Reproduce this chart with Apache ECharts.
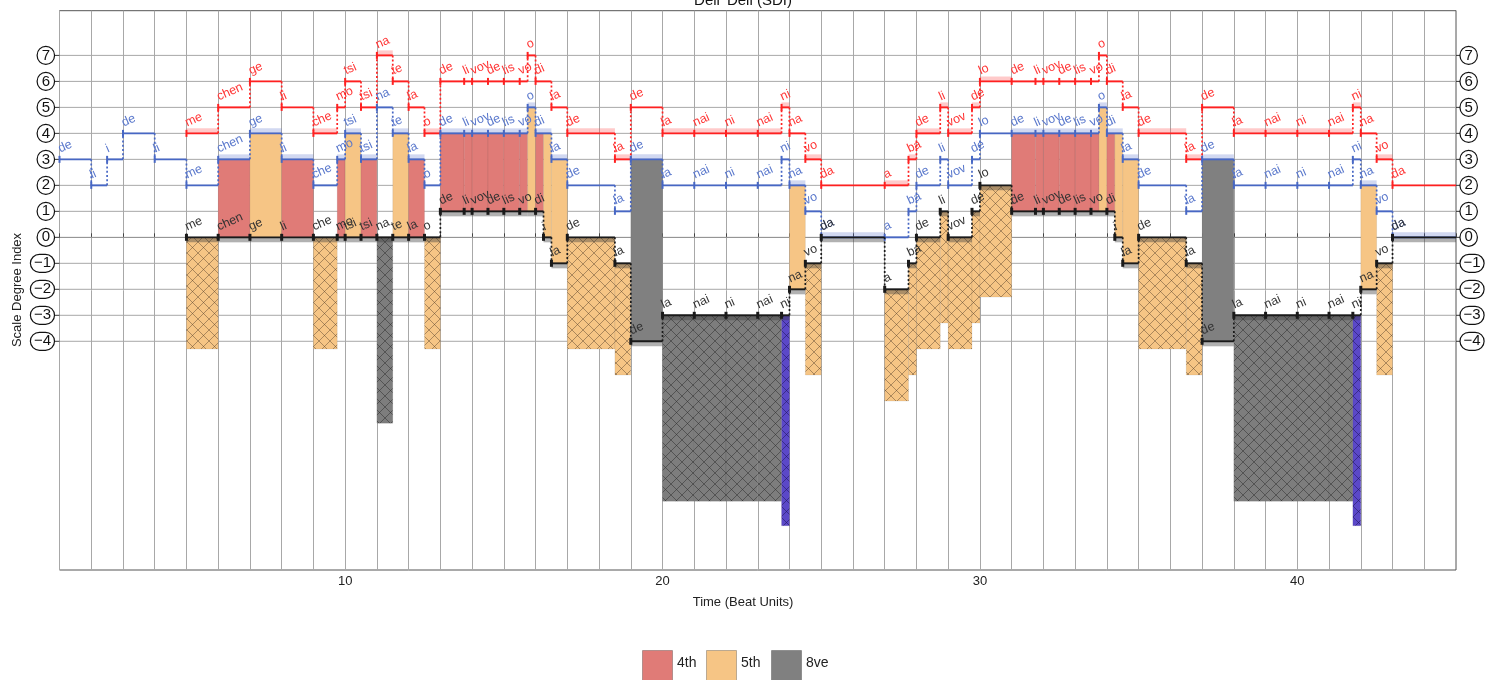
<!DOCTYPE html>
<html><head><meta charset="utf-8">
<script src="https://cdn.jsdelivr.net/npm/echarts@6/dist/echarts.min.js"></script>
<style>html,body{margin:0;padding:0;background:#fff}#c{width:1486px;height:680px}</style>
</head><body><div id="c"></div>
<script>
// ---------- data ----------
const titleText = "Deli' Deli (SDI)";
const xTitle = "Time (Beat Units)";
const yTitle = "Scale Degree Index";
const xMin = 1, xMax = 45;
const yMin = -12.8, yMax = 8.72;
const yTickValues = [-4, -3, -2, -1, 0, 1, 2, 3, 4, 5, 6, 7];
const xLabelValues = [10, 20, 30, 40];
const endTime = 45;

const redOnsets = [5,6,7,8,9,9.75,10,10.5,11,11.5,12,12.5,13,13.75,14,14.5,15,15.5,15.75,16,16.5,17,18.5,19,20,21,22,23,23.75,24,24.5,25,27,27.75,28,28.75,29,29.75,30,31,31.75,32,32.5,33,33.5,33.75,34,34.5,35,36.5,37,38,39,40,41,41.75,42,42.5,43];
const redPitches = [4,5,6,5,4,5,6,5,7,6,5,4,6,6,6,6,6,6,7,6,5,4,3,5,4,4,4,4,5,4,3,2,2,3,4,5,4,5,6,6,6,6,6,6,6,7,6,5,4,3,5,4,4,4,4,5,4,3,2];
const redSyllables = ["me","chen","ge","li","che","mo","tsi","tsi","na","te","la","o","de","li","vov","de","lis","vo","o","di","la","de","la","de","la","nai","ni","nai","ni","na","vo","da","a","ba","de","li","vov","de","lo","de","li","vov","de","lis","vo","o","di","la","de","la","de","la","nai","ni","nai","ni","na","vo","da"];

const blueOnsets = [1,2,2.5,3,4,5,6,7,8,9,9.75,10,10.5,11,11.5,12,12.5,13,13.75,14,14.5,15,15.5,15.75,16,16.5,17,18.5,19,20,21,22,23,23.75,24,24.5,25,27,27.75,28,28.75,29,29.75,30,31,31.75,32,32.5,33,33.5,33.75,34,34.5,35,36.5,37,38,39,40,41,41.75,42,42.5,43];
const bluePitches = [3,2,3,4,3,2,3,4,3,2,3,4,3,5,4,3,2,4,4,4,4,4,4,5,4,3,2,1,3,2,2,2,2,3,2,1,0,0,1,2,3,2,3,4,4,4,4,4,4,4,5,4,3,2,1,3,2,2,2,2,3,2,1,0];
const blueSyllables = ["de","li","i","de","li","me","chen","ge","li","che","mo","tsi","tsi","na","te","la","o","de","li","vov","de","lis","vo","o","di","la","de","la","de","la","nai","ni","nai","ni","na","vo","da","a","ba","de","li","vov","de","lo","de","li","vov","de","lis","vo","o","di","la","de","la","de","la","nai","ni","nai","ni","na","vo","da"];

const blackOnsets = [5,6,7,8,9,9.75,10,10.5,11,11.5,12,12.5,13,13.75,14,14.5,15,15.5,16,16.25,16.5,17,18.5,19,20,21,22,23,23.75,24,24.5,25,27,27.75,28,28.75,29,29.75,30,31,31.75,32,32.5,33,33.5,34,34.25,34.5,35,36.5,37,38,39,40,41,41.75,42,42.5,43];
const blackPitches = [0,0,0,0,0,0,0,0,0,0,0,0,1,1,1,1,1,1,1,0,-1,0,-1,-4,-3,-3,-3,-3,-3,-2,-1,0,-2,-1,0,1,0,1,2,1,1,1,1,1,1,1,0,-1,0,-1,-4,-3,-3,-3,-3,-3,-2,-1,0];
const blackSyllables = ["me","chen","ge","li","che","mo","tsi","tsi","na","te","la","o","de","li","vov","de","lis","vo","di","i","la","de","la","de","la","nai","ni","nai","ni","na","vo","da","a","ba","de","li","vov","de","lo","de","li","vov","de","lis","vo","di","i","la","de","la","de","la","nai","ni","nai","ni","na","vo","da"];

const legendNames = ["4th", "5th", "8ve"];
// interval size (scale steps) -> class
const solidClasses = {3: "4th", 4: "5th", 7: "8ve"};
const hatchClasses = {3: "4th", 4: "5th", 7: "8ve", 8: "9th"};
const hatchDepth = {"4th": 3.3, "5th": 4.3, "8ve": 7.15, "9th": 8.1};

// ---------- styles ----------
const fillColors = {"4th": "#e07b77", "5th": "#f6c585", "8ve": "#808080", "9th": "#5b48c8"};
const voiceStyle = {
  red:   {line: "#ff2020", text: "#ff3535", glow: "rgba(255,80,80,0.30)", glowUp: true, tickW: 2},
  blue:  {line: "#4767c4", text: "#5a78cc", glow: "rgba(70,100,200,0.25)", glowUp: true, tickW: 2},
  black: {line: "#1a1a1a", text: "#333333", glow: "rgba(60,60,60,0.40)", glowUp: false, tickW: 3}
};
const FONT = "'Liberation Sans', Arial, Helvetica, sans-serif";

function makeHatch(bg, line) {
  const s = 11, c = document.createElement('canvas');
  c.width = s; c.height = s;
  const g = c.getContext('2d');
  g.fillStyle = bg; g.fillRect(0, 0, s, s);
  g.strokeStyle = line; g.lineWidth = 0.9;
  g.beginPath();
  g.moveTo(-1, -1); g.lineTo(s + 1, s + 1);
  g.moveTo(s + 1, -1); g.lineTo(-1, s + 1);
  g.stroke();
  return c;
}
const hatchPatterns = {
  "4th": {image: makeHatch("#e07b77", "rgba(60,30,30,0.45)"), repeat: "repeat"},
  "5th": {image: makeHatch("#f6c585", "rgba(80,60,40,0.5)"), repeat: "repeat"},
  "8ve": {image: makeHatch("#7d7d7d", "rgba(40,40,40,0.55)"), repeat: "repeat"},
  "9th": {image: makeHatch("#5b48c8", "rgba(30,20,90,0.6)"), repeat: "repeat"}
};

// ---------- derived structures ----------
function buildNotes(on, pit, syl) {
  return on.map((s, i) => ({start: s, end: i + 1 < on.length ? on[i + 1] : endTime,
    pitch: pit[i], prev: i > 0 ? pit[i - 1] : null, syl: syl[i]}));
}
const voices = {
  red: buildNotes(redOnsets, redPitches, redSyllables),
  blue: buildNotes(blueOnsets, bluePitches, blueSyllables),
  black: buildNotes(blackOnsets, blackPitches, blackSyllables)
};
function pitchAt(on, pit, t) {
  if (t < on[0] || t >= endTime) return null;
  let idx = 0;
  for (let i = 0; i < on.length; i++) if (on[i] <= t) idx = i;
  return pit[idx];
}
const breaks = Array.from(new Set([].concat(redOnsets, blueOnsets, blackOnsets, [endTime]))).sort((a, b) => a - b);
const regions = [];
const glowMap = {};
function addGlow(voice, a, b, y) {
  const k = voice + "_" + a + "_" + y;
  if (!glowMap[k]) glowMap[k] = {voice, a, b, y};
}
for (let i = 0; i < breaks.length - 1; i++) {
  const a = breaks[i], b = breaks[i + 1], m = (a + b) / 2;
  const pr = pitchAt(redOnsets, redPitches, m);
  const pb = pitchAt(blueOnsets, bluePitches, m);
  const pk = pitchAt(blackOnsets, blackPitches, m);
  if (pb !== null && pk !== null) {
    const d = pb - pk;
    if (solidClasses[d]) {
      regions.push({a, b, top: pb, bottom: pk, cls: solidClasses[d], hatch: false});
      addGlow("blue", a, b, pb); addGlow("black", a, b, pk);
    } else if (d === 0) {
      addGlow("blue", a, b, pb); addGlow("black", a, b, pk);
    }
  }
  if (pr !== null && pk !== null) {
    const d = pr - pk;
    if (hatchClasses[d]) {
      const cls = hatchClasses[d];
      regions.push({a, b, top: pk, bottom: pk - hatchDepth[cls], cls, hatch: true});
      addGlow("red", a, b, pr); addGlow("black", a, b, pk);
    }
  }
}
const glows = Object.values(glowMap);

// ---------- render functions ----------
function renderGrid(params, api) {
  const v = yTickValues[params.dataIndex];
  const p0 = api.coord([xMin, v]), p1 = api.coord([xMax, v]);
  const lab = v < 0 ? "\u2212" + Math.abs(v) : String(v);
  const box = {fill: "#111", font: "15px " + FONT, verticalAlign: "middle",
    borderColor: "#111", borderWidth: 1.2, borderRadius: 10,
    padding: v < 0 ? [1.5, 3.5, 1.5, 3.5] : [1.5, 4.5, 1.5, 4.5], lineHeight: 15};
  return {type: "group", children: [
    {type: "line", shape: {x1: p0[0], y1: p0[1], x2: p1[0], y2: p1[1]}, style: {stroke: "#a8a8a8", lineWidth: 1}},
    {type: "line", shape: {x1: p0[0] - 5, y1: p0[1], x2: p0[0], y2: p0[1]}, style: {stroke: "#333", lineWidth: 1}},
    {type: "line", shape: {x1: p1[0], y1: p1[1], x2: p1[0] + 4, y2: p1[1]}, style: {stroke: "#333", lineWidth: 1}},
    {type: "text", x: p0[0] - 5, y: p0[1], style: Object.assign({text: lab, align: "right"}, box)},
    {type: "text", x: p1[0] + 4, y: p1[1], style: Object.assign({text: lab, align: "left"}, box)}
  ]};
}
function renderRegion(params, api) {
  const r = regions[params.dataIndex];
  const p0 = api.coord([r.a, r.top]), p1 = api.coord([r.b, r.bottom]);
  return {type: "rect", shape: {x: p0[0], y: p0[1], width: p1[0] - p0[0], height: p1[1] - p0[1]},
    style: {fill: r.hatch ? hatchPatterns[r.cls] : fillColors[r.cls], stroke: "rgba(0,0,0,0.12)", lineWidth: 0.6}};
}
function renderGlow(params, api) {
  const g = glows[params.dataIndex];
  const st = voiceStyle[g.voice];
  const p0 = api.coord([g.a, g.y]), p1 = api.coord([g.b, g.y]);
  const h = 5;
  return {type: "rect", shape: {x: p0[0], y: st.glowUp ? p0[1] - h : p0[1], width: p1[0] - p0[0], height: h},
    style: {fill: st.glow}};
}
function makeVoiceRenderer(name) {
  const notes = voices[name], st = voiceStyle[name];
  return function (params, api) {
    const n = notes[params.dataIndex];
    const p0 = api.coord([n.start, n.pitch]), p1 = api.coord([n.end, n.pitch]);
    const ch = [];
    if (n.prev !== null && n.prev !== n.pitch) {
      const pp = api.coord([n.start, n.prev]);
      ch.push({type: "line", shape: {x1: p0[0], y1: pp[1], x2: p0[0], y2: p0[1]},
        style: {stroke: st.line, lineWidth: 1.7, lineDash: [2, 2.2]}});
    }
    ch.push({type: "line", shape: {x1: p0[0], y1: p0[1], x2: p1[0], y2: p1[1]}, style: {stroke: st.line, lineWidth: 1.9}});
    ch.push({type: "line", shape: {x1: p0[0], y1: p0[1] - 3.5, x2: p0[0], y2: p0[1] + 3.5}, style: {stroke: st.line, lineWidth: st.tickW}});
    ch.push({type: "text", x: p0[0] + 2, y: p0[1] - 4, rotation: 0.42,
      style: {text: n.syl, fill: st.text, font: "12.5px " + FONT, align: "left", verticalAlign: "bottom"}});
    return {type: "group", children: ch};
  };
}
function voiceSeries(name) {
  return {type: "custom", renderItem: makeVoiceRenderer(name),
    data: voices[name].map(n => [n.start, n.pitch, n.end]), silent: true, animation: false};
}

// ---------- legend / texts ----------
const legendGraphics = [];
const legendX = [642, 706, 771];
legendNames.forEach((nm, i) => {
  legendGraphics.push({type: "rect", left: legendX[i], top: 650, shape: {width: 30, height: 32},
    style: {fill: fillColors[nm], stroke: "rgba(0,0,0,0.25)", lineWidth: 1}});
  legendGraphics.push({type: "text", left: legendX[i] + 35, top: 656,
    style: {text: nm, fill: "#222", font: "14px " + FONT}});
});

const chart = echarts.init(document.getElementById("c"), null, {renderer: "canvas"});
chart.setOption({
  animation: false,
  backgroundColor: "#fff",
  grid: {left: 59.5, right: 30, top: 10.7, bottom: 110, show: true, borderColor: "#555", borderWidth: 1, backgroundColor: "transparent"},
  xAxis: {
    type: "value", min: xMin, max: xMax, interval: 1,
    axisLine: {show: true, lineStyle: {color: "#444", width: 1}},
    axisTick: {show: true, inside: true, length: 4, lineStyle: {color: "#444"}},
    axisLabel: {formatter: v => xLabelValues.includes(v) ? String(v) : "", fontSize: 13, color: "#222", margin: 5, fontFamily: FONT},
    splitLine: {show: true, lineStyle: {color: "#a8a8a8", width: 1}}
  },
  yAxis: {
    type: "value", min: yMin, max: yMax,
    axisLine: {show: false}, axisTick: {show: false}, axisLabel: {show: false}, splitLine: {show: false}
  },
  series: [
    {type: "custom", renderItem: renderGrid, data: yTickValues.map(v => [xMin, v]), silent: true, animation: false},
    {type: "custom", renderItem: renderRegion, data: regions.map(r => [r.a, r.top, r.b, r.bottom]), silent: true, animation: false},
    {type: "custom", renderItem: renderGlow, data: glows.map(g => [g.a, g.y, g.b]), silent: true, animation: false},
    voiceSeries("red"),
    voiceSeries("blue"),
    voiceSeries("black")
  ],
  graphic: [
    {type: "text", left: "center", top: -7, style: {text: titleText, fill: "#111", font: "15px " + FONT}},
    {type: "text", left: "center", top: 596, style: {text: xTitle, fill: "#222", font: "13px " + FONT}},
    {type: "text", x: 17, y: 290, rotation: Math.PI / 2,
      style: {text: yTitle, fill: "#222", font: "13px " + FONT, align: "center", verticalAlign: "middle"}}
  ].concat(legendGraphics)
});
</script></body></html>
